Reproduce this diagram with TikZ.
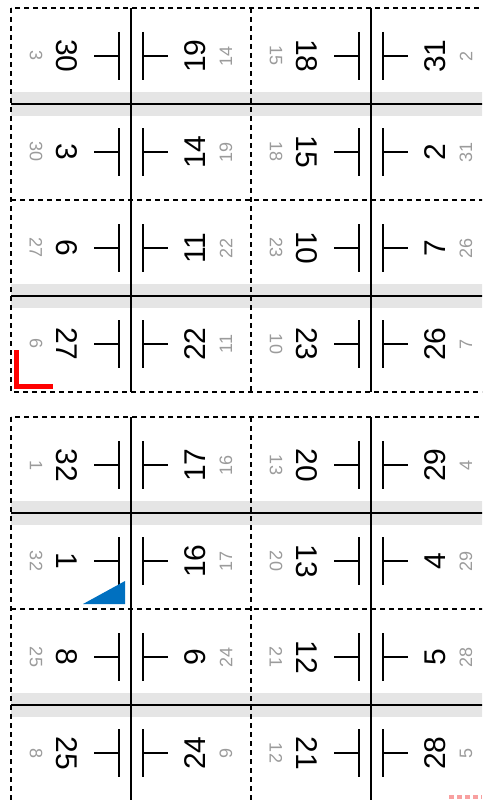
\documentclass[tikz,border=0pt]{standalone}
\usepackage{fontspec}
\setmainfont{Liberation Sans}
\definecolor{BandGray}{RGB}{229,229,229}
\definecolor{BackGray}{RGB}{155,155,155}
\definecolor{MarkBlue}{RGB}{0,112,192}
\definecolor{MarkRed}{RGB}{255,0,0}
\definecolor{GuidePink}{RGB}{248,160,160}

\begin{document}
\begin{tikzpicture}[x=1pt,y=-1pt,
  cutline/.style={black,line width=1.2pt,dash pattern=on 5pt off 4pt},
  foldline/.style={black,line width=1.6pt},
  foldmark/.style={black,line width=1.3pt},
  pagenum/.style={font=\fontsize{30}{30}\selectfont,inner sep=0pt},
  backnum/.style={font=\fontsize{18}{18}\selectfont,text=BackGray,inner sep=0pt}]
  \useasboundingbox (0,0) rectangle (482,800);
  \clip (0,0) rectangle (482,800);
  % gutter bands
  \foreach \y in {104,296,513,705}
    \fill[BandGray] (11,\y-12) rectangle (491,\y+12);
  % two forms
  \foreach \y in {8,417} {
    \draw[cutline] (11,\y) rectangle (491,\y+384);
    \draw[cutline] (11,\y+192) -- (491,\y+192);
    \draw[cutline] (251,\y) -- (251,\y+384);
    \draw[foldline] (131,\y) -- (131,\y+384);
    \draw[foldline] (371,\y) -- (371,\y+384);
    \draw[foldline] (11,\y+96) -- (491,\y+96);
    \draw[foldline] (11,\y+288) -- (491,\y+288);
  }
  % fold marks
  \foreach \x in {131,371}
    \foreach \yc in {56,152,248,344,465,561,657,753} {
      \draw[foldmark] (\x-12,\yc-24) -- (\x-12,\yc+24) (\x-12,\yc) -- (\x-37,\yc);
      \draw[foldmark] (\x+12,\yc-24) -- (\x+12,\yc+24) (\x+12,\yc) -- (\x+37,\yc);
    }
  % page numbers: row centre / front / back for each column
  \foreach \yc/\a/\aa/\b/\bb/\c/\cc/\d/\dd in {
      56/30/3/19/14/18/15/31/2,
      152/3/30/14/19/15/18/2/31,
      248/6/27/11/22/10/23/7/26,
      344/27/6/22/11/23/10/26/7,
      465/32/1/17/16/20/13/29/4,
      561/1/32/16/17/13/20/4/29,
      657/8/25/9/24/12/21/5/28,
      753/25/8/24/9/21/12/28/5} {
    \node[pagenum,rotate=-90] (pg\a) at (67,\yc) {\a};
    \node[backnum,rotate=-90] (bk\a) at (36,\yc) {\aa};
    \node[pagenum,rotate=90] (pg\b) at (195,\yc) {\b};
    \node[backnum,rotate=90] (bk\b) at (226,\yc) {\bb};
    \node[pagenum,rotate=-90] (pg\c) at (307,\yc) {\c};
    \node[backnum,rotate=-90] (bk\c) at (276,\yc) {\cc};
    \node[pagenum,rotate=90] (pg\d) at (435,\yc) {\d};
    \node[backnum,rotate=90] (bk\d) at (466,\yc) {\dd};
  }
  % registration marks
  \draw[MarkRed,line width=5pt] (16.5,350) -- (16.5,386.5) -- (53,386.5);
  \fill[MarkBlue] (125,581) -- (125,604) -- (83,604) -- cycle;
  \draw[GuidePink,line width=4pt,dash pattern=on 5pt off 3pt] (449,796.5) -- (482,796.5);
\end{tikzpicture}
\end{document}
